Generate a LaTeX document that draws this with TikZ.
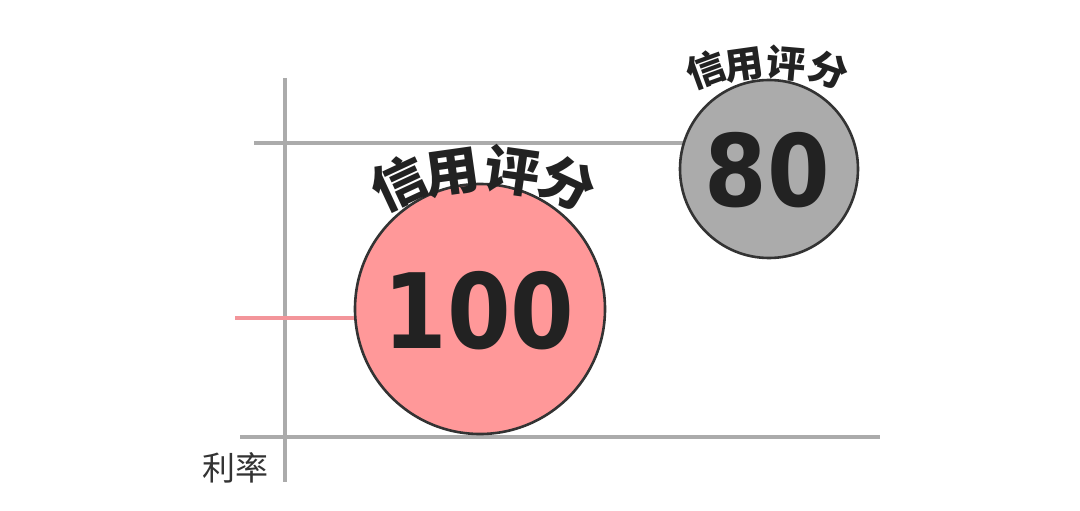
\documentclass[tikz,border=0pt]{standalone}
\usepackage{fontspec}
\newfontfamily\cjk{Noto Sans CJK SC}
\newfontfamily\cjkb{Noto Sans CJK SC}[UprightFont=* Black]
\newfontfamily\digits{DejaVu Sans}
\definecolor{axisgrey}{HTML}{ABABAB}
\definecolor{pinkline}{HTML}{F3959A}
\definecolor{pinkfill}{HTML}{FF9899}
\definecolor{greyfill}{HTML}{ABABAB}
\definecolor{edge}{HTML}{333333}
\definecolor{ink}{HTML}{222222}
\begin{document}
\begin{tikzpicture}[x=1pt,y=-1pt,
  axisline/.style={draw=axisgrey,line width=3.5pt},
  guide/.style={draw=pinkline,line width=3.5pt},
  ball/.style={circle,draw=edge,line width=2.6pt,inner sep=0pt},
  bignum/.style={text=ink,font=\digits\bfseries,inner sep=0pt},
  bigch/.style={text=ink,inner sep=0pt,font=\cjkb\fontsize{52}{52}\selectfont},
  smallch/.style={text=ink,inner sep=0pt,font=\cjkb\fontsize{37}{37}\selectfont},
  lab/.style={text=edge,font=\cjk\fontsize{33}{33}\selectfont,inner sep=0pt}]
\useasboundingbox (0,0) rectangle (1080,511);
% axes and guides
\coordinate (vtop) at (285,78);
\coordinate (vbot) at (285,482);
\coordinate (hl) at (240,437);
\coordinate (hr) at (880,437);
\coordinate (gl) at (254,143);
\coordinate (gr) at (720,143);
\coordinate (pl) at (235,318);
\draw[axisline] (vtop) -- (vbot);
\draw[axisline] (hl) -- (hr);
\draw[axisline] (gl) -- (gr);
% circles
\node[ball,fill=pinkfill,minimum size=250pt] (red) at (480,309) {};
\node[ball,fill=greyfill,minimum size=178pt] (grey) at (769,169) {};
\draw[guide] (pl) -- (red.west |- pl);
% numbers
\node[bignum] (n100) at (479,311) {\scalebox{0.88}[1]{\fontsize{104}{104}\selectfont 100}};
\node[bignum] (n80) at (767,170) {\scalebox{0.9}[1]{\fontsize{100}{100}\selectfont 80}};
% curved labels (red)
\node[bigch,rotate=25] (r1) at (399,183) {\scalebox{1.06}[1]{信}};
\node[bigch,rotate=8] (r2) at (452,173) {\scalebox{1.06}[1]{用}};
\node[bigch,rotate=-8] (r3) at (513,171) {\scalebox{1.06}[1]{评}};
\node[bigch,rotate=-25] (r4) at (568,183) {\scalebox{1.06}[1]{分}};
% curved labels (grey)
\node[smallch,rotate=20] (g1) at (706,70) {\scalebox{1.06}[1]{信}};
\node[smallch,rotate=8] (g2) at (744,65) {\scalebox{1.06}[1]{用}};
\node[smallch,rotate=-5] (g3) at (786,63) {\scalebox{1.06}[1]{评}};
\node[smallch,rotate=-20] (g4) at (829,70) {\scalebox{1.06}[1]{分}};
% axis label
\node[lab] (rate) at (235,468) {利率};
\end{tikzpicture}
\end{document}
